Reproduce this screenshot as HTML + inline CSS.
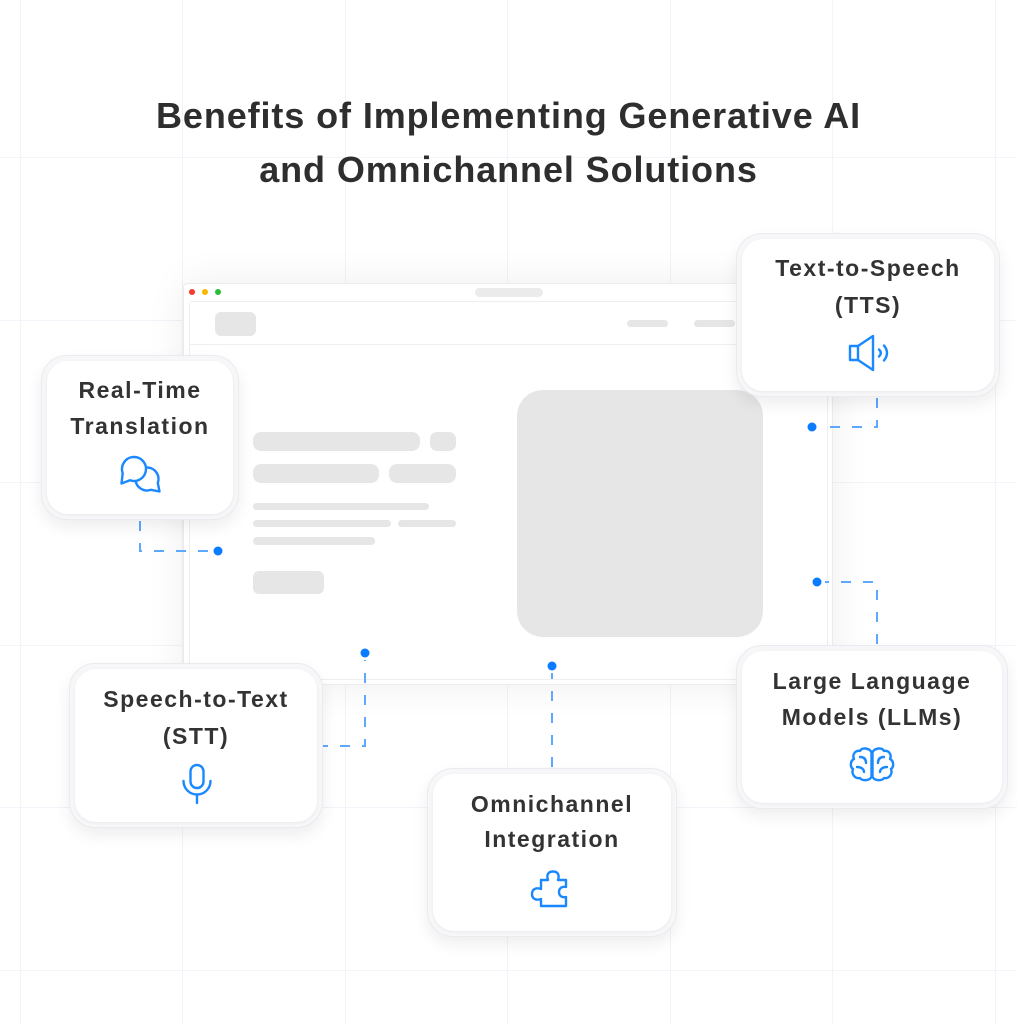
<!DOCTYPE html>
<html>
<head>
<meta charset="utf-8">
<style>
  html,body{margin:0;padding:0;}
  body{width:1017px;height:1024px;position:relative;overflow:hidden;background:#fff;font-family:"Liberation Sans",Arial,sans-serif;}
  .abs{position:absolute;}
  .ph{position:absolute;background:#e6e6e6;}
  .title{position:absolute;left:0;top:89px;width:1017px;text-align:center;font-size:36px;line-height:54px;font-weight:bold;color:#2e2e2e;letter-spacing:0.9px;}
  .card{position:absolute;background:#f7f7f9;border:1px solid #ebebef;border-radius:26px;box-shadow:0 7px 16px rgba(0,0,0,0.07);box-sizing:border-box;}
  .card .in{position:absolute;left:5px;top:5px;right:5px;bottom:5px;background:#fff;border-radius:21px;box-shadow:0 1px 3px rgba(0,0,0,0.06);}
  .lbl{position:absolute;text-align:center;font-size:23px;line-height:36px;font-weight:bold;color:#333;letter-spacing:1.5px;white-space:nowrap;}
</style>
</head>
<body>

<!-- grid -->
<svg class="abs" style="left:0;top:0" width="1017" height="1024">
  <g stroke="#f1f4f8" stroke-width="1">
    <line x1="20.5" y1="0" x2="20.5" y2="1024"/>
    <line x1="182.5" y1="0" x2="182.5" y2="1024"/>
    <line x1="345.5" y1="0" x2="345.5" y2="1024"/>
    <line x1="507.5" y1="0" x2="507.5" y2="1024"/>
    <line x1="670.5" y1="0" x2="670.5" y2="1024"/>
    <line x1="832.5" y1="0" x2="832.5" y2="1024"/>
    <line x1="995.5" y1="0" x2="995.5" y2="1024"/>
    <line x1="0" y1="157.5" x2="1017" y2="157.5"/>
    <line x1="0" y1="320.5" x2="1017" y2="320.5"/>
    <line x1="0" y1="482.5" x2="1017" y2="482.5"/>
    <line x1="0" y1="645.5" x2="1017" y2="645.5"/>
    <line x1="0" y1="807.5" x2="1017" y2="807.5"/>
    <line x1="0" y1="970.5" x2="1017" y2="970.5"/>
  </g>
</svg>

<div class="title">Benefits of Implementing Generative AI<br>and Omnichannel Solutions</div>

<!-- browser window -->
<div class="abs" style="left:183px;top:283px;width:650px;height:402px;background:#fff;border:1px solid #ececec;border-radius:4px;box-shadow:0 0 40px rgba(0,0,0,0.07);box-sizing:border-box;"></div>
<div class="abs" style="left:189px;top:301px;width:639px;height:379px;border:1px solid #eeeeee;border-radius:3px;box-sizing:border-box;"></div>
<div class="abs" style="left:190px;top:344px;width:637px;height:1px;background:#efefef;"></div>
<div class="abs" style="left:189px;top:289px;width:6px;height:6px;border-radius:50%;background:#f23a2f;"></div>
<div class="abs" style="left:202px;top:289px;width:6px;height:6px;border-radius:50%;background:#f5b800;"></div>
<div class="abs" style="left:215px;top:289px;width:6px;height:6px;border-radius:50%;background:#28c03a;"></div>
<div class="ph" style="left:475px;top:288px;width:68px;height:9px;border-radius:5px;background:#ebebeb;"></div>
<div class="ph" style="left:215px;top:312px;width:41px;height:24px;border-radius:6px;"></div>
<div class="ph" style="left:627px;top:320px;width:41px;height:7px;border-radius:4px;"></div>
<div class="ph" style="left:694px;top:320px;width:41px;height:7px;border-radius:4px;"></div>
<div class="ph" style="left:253px;top:432px;width:167px;height:19px;border-radius:8px;"></div>
<div class="ph" style="left:430px;top:432px;width:26px;height:19px;border-radius:7px;"></div>
<div class="ph" style="left:253px;top:464px;width:126px;height:19px;border-radius:8px;"></div>
<div class="ph" style="left:389px;top:464px;width:67px;height:19px;border-radius:8px;"></div>
<div class="ph" style="left:253px;top:503px;width:176px;height:7px;border-radius:4px;"></div>
<div class="ph" style="left:253px;top:520px;width:138px;height:7px;border-radius:4px;"></div>
<div class="ph" style="left:398px;top:520px;width:58px;height:7px;border-radius:4px;"></div>
<div class="ph" style="left:253px;top:537px;width:122px;height:8px;border-radius:4px;"></div>
<div class="ph" style="left:253px;top:571px;width:71px;height:23px;border-radius:6px;"></div>
<div class="ph" style="left:517px;top:390px;width:246px;height:247px;border-radius:26px;"></div>

<!-- connectors -->
<svg class="abs" style="left:0;top:0" width="1017" height="1024">
  <g fill="none" stroke="#5ea8ff" stroke-width="2" stroke-dasharray="10 12">
    <path d="M140,521 V551 H212"/>
    <path d="M877,398 V427 H820"/>
    <path d="M877,644 V582 H825"/>
    <path d="M318,746 H365 V660"/>
    <path d="M552,767 V673"/>
  </g>
  <g fill="#0b7bff">
    <circle cx="218" cy="551" r="4.5"/>
    <circle cx="812" cy="427" r="4.5"/>
    <circle cx="817" cy="582" r="4.5"/>
    <circle cx="365" cy="653" r="4.5"/>
    <circle cx="552" cy="666" r="4.5"/>
  </g>
</svg>

<!-- cards -->
<div class="card" style="left:41px;top:355px;width:198px;height:165px;"><div class="in"></div></div>
<div class="card" style="left:736px;top:233px;width:264px;height:164px;"><div class="in"></div></div>
<div class="card" style="left:69px;top:663px;width:254px;height:165px;"><div class="in"></div></div>
<div class="card" style="left:427px;top:768px;width:250px;height:169px;"><div class="in"></div></div>
<div class="card" style="left:736px;top:645px;width:272px;height:164px;"><div class="in"></div></div>

<div class="lbl" style="left:41px;width:198px;top:372px;">Real-Time<br>Translation</div>
<div class="lbl" style="left:736px;width:264px;top:250px;line-height:37px;">Text-to-Speech<br>(TTS)</div>
<div class="lbl" style="left:69px;width:254px;top:681px;line-height:37px;">Speech-to-Text<br>(STT)</div>
<div class="lbl" style="left:427px;width:250px;top:787px;line-height:35px;">Omnichannel<br>Integration</div>
<div class="lbl" style="left:736px;width:272px;top:663px;">Large Language<br>Models (LLMs)</div>

<!-- icons -->
<svg class="abs" style="left:0;top:0" width="1017" height="1024">
  <g fill="none" stroke="#1a88ff" stroke-width="2.4" stroke-linejoin="round" stroke-linecap="round">
    <!-- chat bubbles -->
    <path d="M157.8,482.9 A11.5,11.5 0 1 0 150.9,489.8 L159.5,491.5 Z" fill="#fff"/>
    <path d="M129.9,480.3 A12,12 0 1 0 122.7,473.1 L121.5,483.5 Z" fill="#fff"/>
    <!-- speaker -->
    <rect x="850" y="346" width="8" height="14"/>
    <path d="M858,346 L873,336 V370 L858,360"/>
    <path d="M879,349.5 Q882.5,353 879,356.5"/>
    <path d="M884,345.5 Q890,353 884,360.5"/>
    <!-- mic -->
    <rect x="190.5" y="765" width="13" height="23" rx="6.5"/>
    <path d="M183.5,781 A13.5,13.5 0 0 0 210.5,781"/>
    <path d="M197,795 V803"/>
    <!-- puzzle -->
    <path d="M541,880 H548 C546,874 549,871.5 553,871.5 C557,871.5 560,874 558,880 H566 V887 C561,886 559,889 559,892 C559,895 561,898 566,897 V906 H541 V899 C535,901 532,898 532,894 C532,890 535,887 541,889 Z"/>
    <!-- brain -->
    <path d="M871.5,752 C869,748 862,747 860,751 C855,750 852,755 854,759 C850,761 850,767 853,769 C851,774 855,779 860,778 C862,781 869,781 871.5,777 Z"/>
    <path d="M872.5,752 C875,748 882,747 884,751 C889,750 892,755 890,759 C894,761 894,767 891,769 C893,774 889,779 884,778 C882,781 875,781 872.5,777 Z"/>
    <path d="M860,757 C864,757 866,759 866,763"/>
    <path d="M857,767 C861,767 864,769 864,772"/>
    <path d="M884,757 C880,757 878,759 878,763"/>
    <path d="M887,767 C883,767 880,769 880,772"/>
  </g>
</svg>

</body>
</html>
